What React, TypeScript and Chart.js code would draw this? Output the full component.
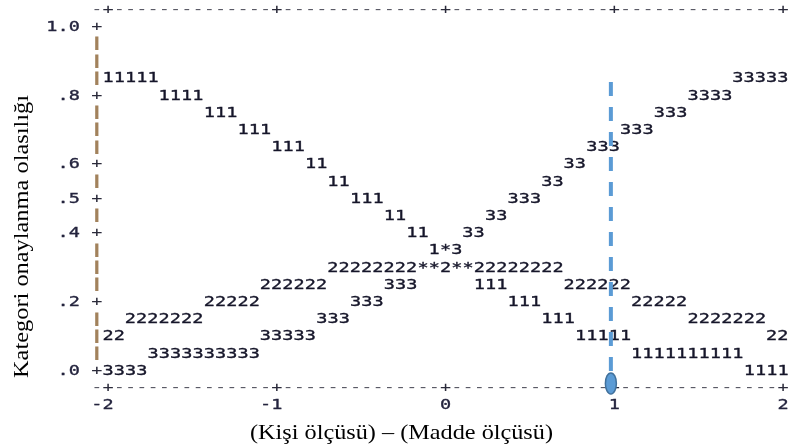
import React, { useEffect, useRef } from "react";
import { Chart, registerables } from "chart.js";

Chart.register(...registerables);

// Winsteps-style category probability curves (text plot)
const columnWidth = 1 / 15; // one text column in logits
const xTicks = [-2, -1, 0, 1, 2];
const xTickLabels = ["-2", "-1", "0", "1", "2"];
const yRows = [0, 0.05, 0.1, 0.15, 0.2, 0.25, 0.3, 0.35, 0.4, 0.45, 0.5, 0.55, 0.6, 0.65, 0.7, 0.75, 0.8, 0.85, 0.9, 0.95, 1.0];
const yTicks = [0, 0.2, 0.4, 0.5, 0.6, 0.8, 1.0];
const yTickLabels = [".0", ".2", ".4", ".5", ".6", ".8", "1.0"];

// [start logit, probability, characters]
const category1: [number, number, string][] = [
  [-2.0, 0.85, "11111"], [-1.667, 0.8, "1111"], [-1.4, 0.75, "111"], [-1.2, 0.7, "111"],
  [-1.0, 0.65, "111"], [-0.8, 0.6, "11"], [-0.667, 0.55, "11"], [-0.533, 0.5, "111"],
  [-0.333, 0.45, "11"], [-0.2, 0.4, "11"], [-0.067, 0.35, "1"], [0.2, 0.25, "111"],
  [0.4, 0.2, "111"], [0.6, 0.15, "111"], [0.8, 0.1, "11111"], [1.133, 0.05, "1111111111"],
  [1.8, 0.0, "1111"],
];
const category2: [number, number, string][] = [
  [-2.0, 0.1, "22"], [-1.867, 0.15, "2222222"], [-1.4, 0.2, "22222"], [-1.067, 0.25, "222222"],
  [-0.667, 0.3, "22222222"], [0.0, 0.3, "2"], [0.2, 0.3, "22222222"], [0.733, 0.25, "222222"],
  [1.133, 0.2, "22222"], [1.467, 0.15, "2222222"], [1.933, 0.1, "22"],
];
const category3: [number, number, string][] = [
  [1.733, 0.85, "33333"], [1.467, 0.8, "3333"], [1.267, 0.75, "333"], [1.067, 0.7, "333"],
  [0.867, 0.65, "333"], [0.733, 0.6, "33"], [0.6, 0.55, "33"], [0.4, 0.5, "333"],
  [0.267, 0.45, "33"], [0.133, 0.4, "33"], [0.067, 0.35, "3"], [-0.333, 0.25, "333"],
  [-0.533, 0.2, "333"], [-0.733, 0.15, "333"], [-1.067, 0.1, "33333"], [-1.733, 0.05, "3333333333"],
  [-2.0, 0.0, "3333"],
];
const overlaps: [number, number, string][] = [
  [0.0, 0.35, "*"], [-0.133, 0.3, "**"], [0.067, 0.3, "**"],
];
const personMeasure = 0.98;
const markerTop = 0.84;

const xTitle = "(Kişi ölçüsü) – (Madde ölçüsü)";
const yTitle = "Kategori onaylanma olasılığı";

const MONO = "14.5px 'DejaVu Sans Mono', monospace";
const BAR_FONT = "bold 12.5px 'DejaVu Sans Mono', monospace";
const SERIF = "21px 'Liberation Serif', 'Times New Roman', serif";
const STRETCH = 1.28;
const TEXT_COLOR = "#16162a";

function toPoints(segs: [number, number, string][]) {
  return segs.map(([x, y, t]) => ({ x, y, t }));
}

function drawChar(ctx: CanvasRenderingContext2D, ch: string, px: number, py: number, weight = 0.35) {
  ctx.save();
  ctx.translate(px, py);
  ctx.scale(STRETCH, 1);
  ctx.fillText(ch, 0, 0);
  if (weight > 0) {
    ctx.lineWidth = weight;
    ctx.strokeStyle = ctx.fillStyle as string;
    ctx.strokeText(ch, 0, 0);
  }
  ctx.restore();
}

function drawStretchedTitle(ctx: CanvasRenderingContext2D, text: string, cx: number, cy: number, length: number, angle: number) {
  ctx.save();
  ctx.font = SERIF;
  const w = ctx.measureText(text).width;
  ctx.translate(cx, cy);
  ctx.rotate(angle);
  ctx.scale(length / w, 1);
  ctx.fillText(text, 0, 0);
  ctx.restore();
}

const textPlot = {
  id: "textPlot",
  beforeDatasetsDraw(chart: any) {
    const ctx: CanvasRenderingContext2D = chart.ctx;
    const xs = chart.scales.x;
    const ys = chart.scales.y;
    const step = xs.getPixelForValue(columnWidth) - xs.getPixelForValue(0);
    const rowStep = ys.getPixelForValue(0) - ys.getPixelForValue(0.05);
    ctx.save();
    ctx.font = MONO;
    ctx.textAlign = "center";
    ctx.textBaseline = "middle";

    // frame lines (top and bottom)
    const x0 = xs.getPixelForValue(xTicks[0]);
    const nCols = Math.round((xTicks[xTicks.length - 1] - xTicks[0]) / columnWidth);
    const perTick = Math.round(1 / columnWidth);
    [ys.getPixelForValue(1) - rowStep, ys.getPixelForValue(0) + rowStep].forEach((py) => {
      for (let c = -1; c <= nCols; c++) {
        const isTick = c >= 0 && c % perTick === 0;
        ctx.fillStyle = isTick ? "#2a2a3a" : "#5a5a66";
        drawChar(ctx, isTick ? "+" : "-", x0 + c * step, py, 0);
      }
    });

    // y axis column
    const axisX = x0 - step;
    yRows.forEach((v) => {
      const isTick = yTicks.some((t) => Math.abs(t - v) < 1e-9);
      const py = ys.getPixelForValue(v);
      if (isTick) {
        ctx.fillStyle = "#2a2a3a";
        drawChar(ctx, "+", axisX, py, 0);
      } else {
        ctx.save();
        ctx.font = BAR_FONT;
        ctx.fillStyle = "#a2825c";
        drawChar(ctx, "|", axisX, py, 1.1);
        ctx.restore();
      }
    });

    // y tick labels
    ctx.fillStyle = "#24243e";
    yTicks.forEach((v, i) => {
      const lab = yTickLabels[i];
      const py = ys.getPixelForValue(v);
      for (let k = 0; k < lab.length; k++) {
        drawChar(ctx, lab[k], axisX - 2 * step - (lab.length - 1 - k) * step, py);
      }
    });

    // x tick labels
    const labY = ys.getPixelForValue(0) + 2 * rowStep;
    xTicks.forEach((v, i) => {
      const lab = xTickLabels[i];
      const px = xs.getPixelForValue(v);
      for (let k = 0; k < lab.length; k++) {
        drawChar(ctx, lab[k], px - (lab.length - 1 - k) * step, labY);
      }
    });

    // curve characters
    ctx.fillStyle = TEXT_COLOR;
    chart.data.datasets.forEach((ds: any, di: number) => {
      if (!ds.textSeries) return;
      const meta = chart.getDatasetMeta(di);
      meta.data.forEach((el: any, j: number) => {
        const t: string = ds.data[j].t;
        for (let k = 0; k < t.length; k++) {
          drawChar(ctx, t[k], el.x + k * step, el.y);
        }
      });
    });

    // titles
    ctx.fillStyle = "#000";
    drawStretchedTitle(ctx, xTitle, 401.5, 433, 303, 0);
    drawStretchedTitle(ctx, yTitle, 22, 236.5, 283, -Math.PI / 2);
    ctx.restore();
  },
  afterDatasetsDraw(chart: any) {
    const ctx: CanvasRenderingContext2D = chart.ctx;
    const xs = chart.scales.x;
    const ys = chart.scales.y;
    const px = xs.getPixelForValue(personMeasure);
    const py = ys.getPixelForValue(-0.036);
    ctx.save();
    ctx.beginPath();
    ctx.ellipse(px, py, 5.5, 10.5, 0, 0, Math.PI * 2);
    ctx.fillStyle = "#5b9bd5";
    ctx.fill();
    ctx.lineWidth = 1.5;
    ctx.strokeStyle = "#41719c";
    ctx.stroke();
    ctx.restore();
  },
};

export default function App() {
  const ref = useRef<HTMLCanvasElement | null>(null);
  useEffect(() => {
    document.body.style.margin = "0";
    const canvas = ref.current!;
    const chart = new Chart(canvas, {
      type: "scatter",
      data: {
        datasets: [
          { label: "1", data: toPoints(category1), pointRadius: 0, showLine: false, textSeries: true } as any,
          { label: "2", data: toPoints(category2), pointRadius: 0, showLine: false, textSeries: true } as any,
          { label: "3", data: toPoints(category3), pointRadius: 0, showLine: false, textSeries: true } as any,
          { label: "*", data: toPoints(overlaps), pointRadius: 0, showLine: false, textSeries: true } as any,
          {
            type: "line",
            label: "person",
            data: [
              { x: personMeasure, y: markerTop },
              { x: personMeasure, y: -0.02 },
            ],
            borderColor: "#5b9bd5",
            borderWidth: 4,
            borderDash: [14, 11],
            pointRadius: 0,
            clip: false,
          } as any,
        ],
      },
      options: {
        responsive: false,
        animation: false,
        events: [],
        layout: { padding: { left: 6.75, right: 6, top: 27, bottom: 77 } },
        plugins: { legend: { display: false }, tooltip: { enabled: false } },
        scales: {
          x: { type: "linear", min: -2.6, max: 2, display: false },
          y: { type: "linear", min: 0, max: 1, display: false },
        },
      },
      plugins: [textPlot],
    });
    return () => chart.destroy();
  }, []);
  return (
    <div style={{ position: "fixed", left: 0, top: 0, width: 789, height: 448, background: "#fff" }}>
      <canvas ref={ref} width={789} height={448} style={{ width: 789, height: 448 }} />
    </div>
  );
}
